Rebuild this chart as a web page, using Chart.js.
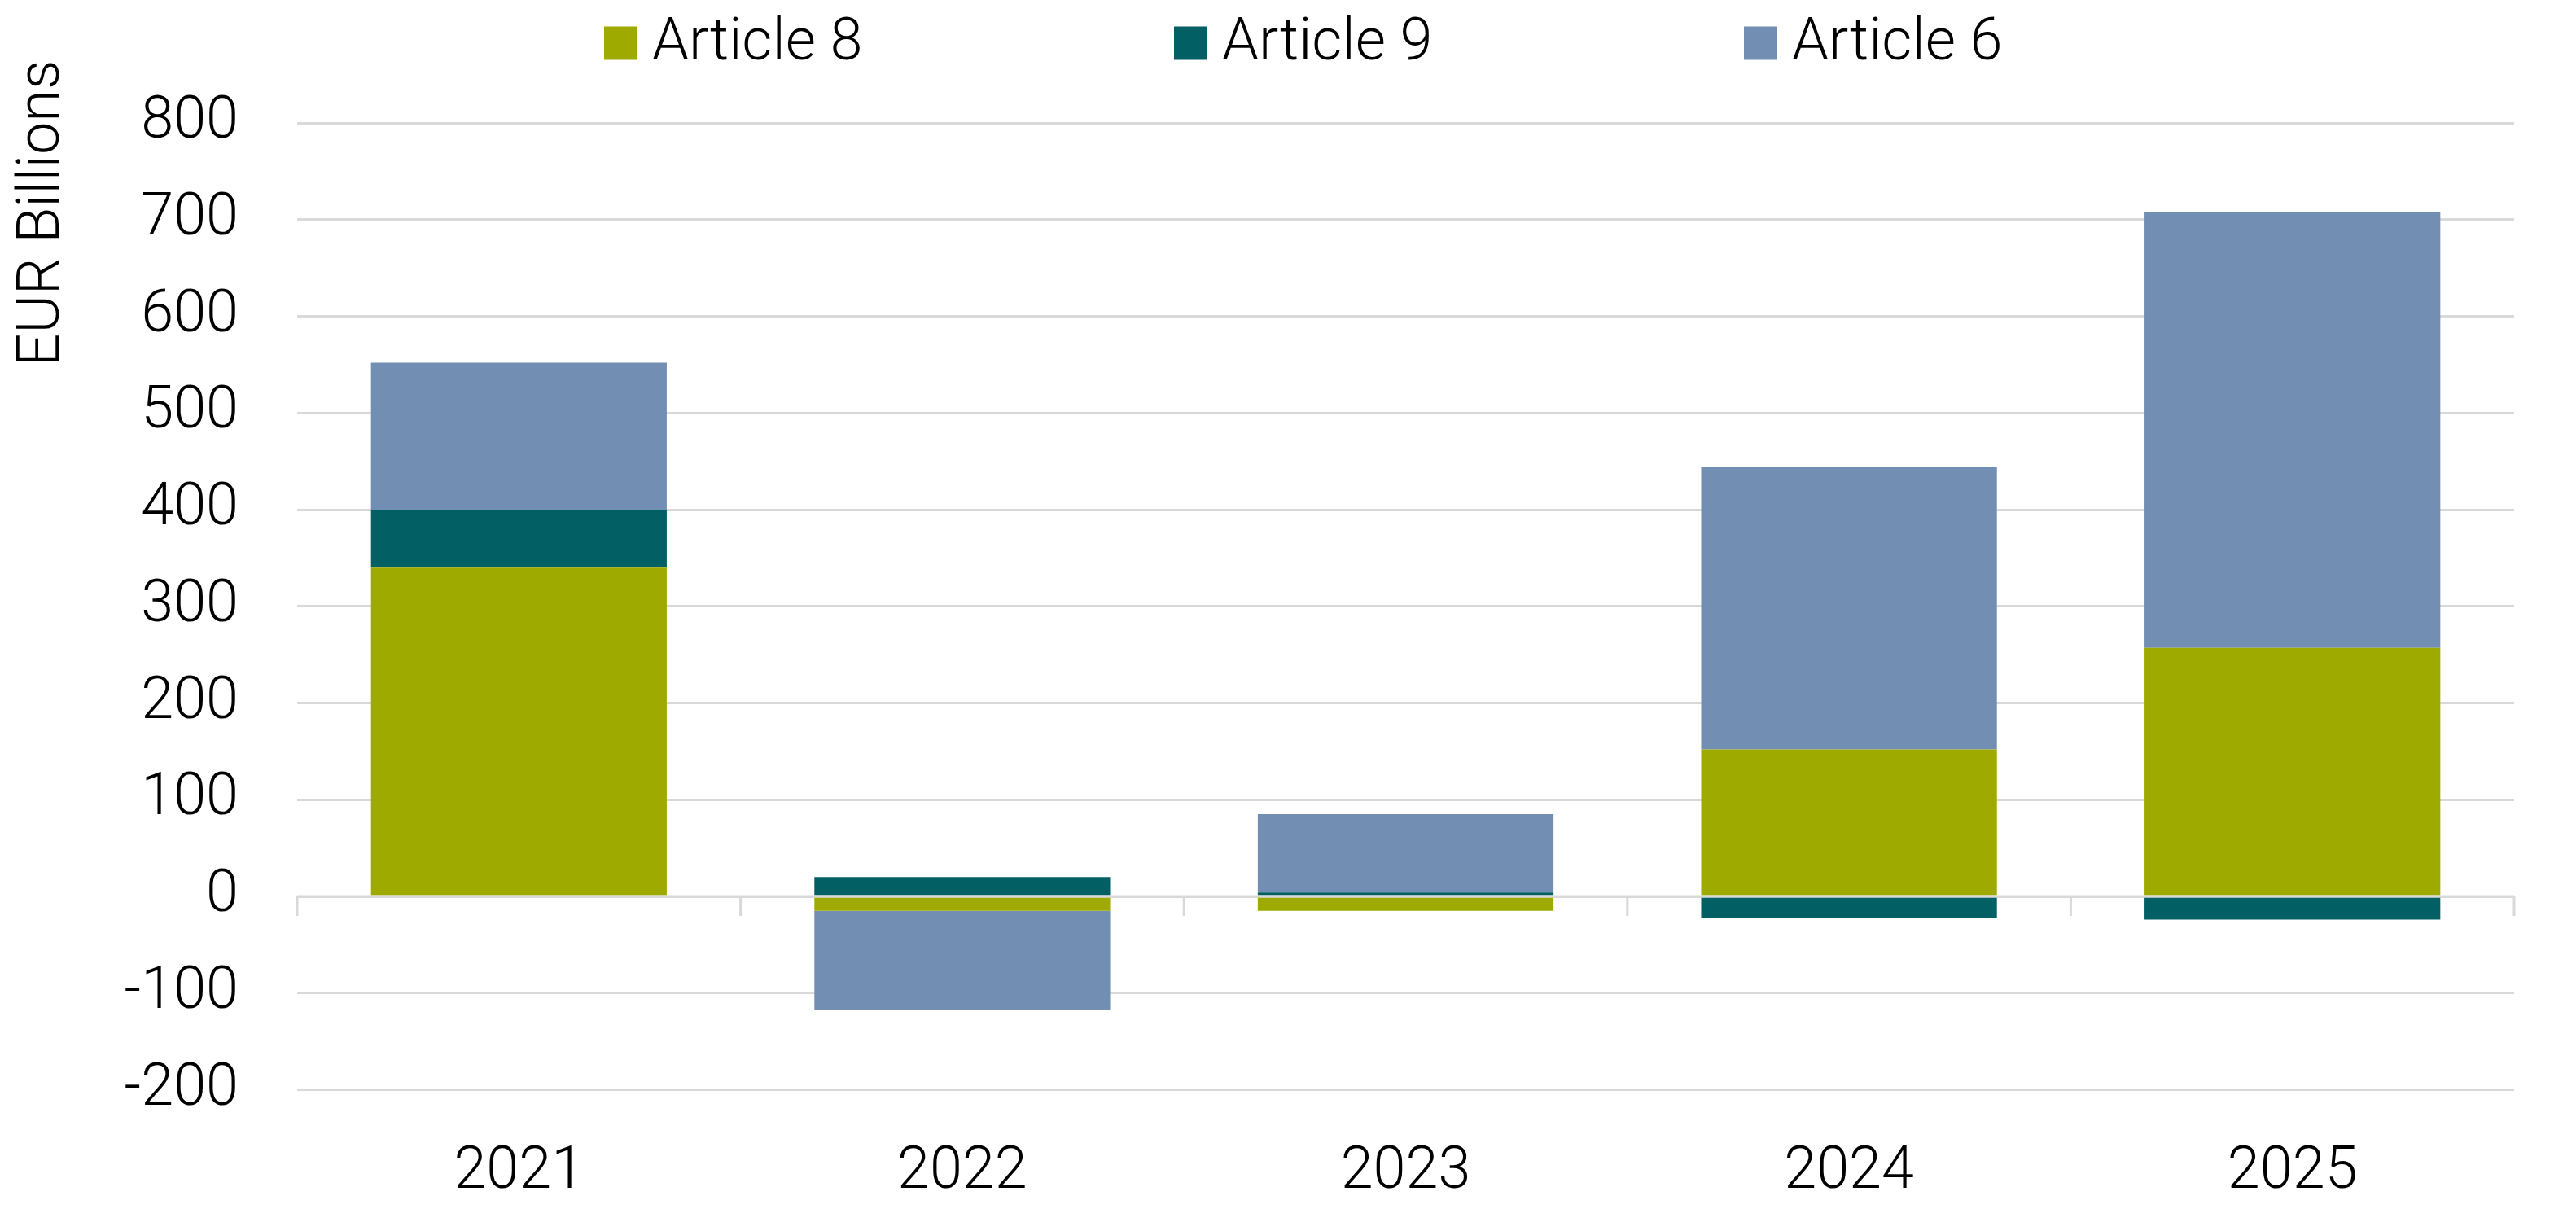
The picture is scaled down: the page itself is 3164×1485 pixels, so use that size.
<!DOCTYPE html>
<html>
<head>
<meta charset="utf-8">
<title>Flows by SFDR article</title>
<script src="https://cdn.jsdelivr.net/npm/chart.js@4/dist/chart.umd.min.js"></script>
<style>
  html, body { margin: 0; padding: 0; background: #fff; }
  #wrap { width: 3164px; height: 1485px; position: relative; }
</style>
</head>
<body>
<div id="wrap"><canvas id="graficoBarras"></canvas></div>
<script>
// data (EUR billions)
const years = ["2021", "2022", "2023", "2024", "2025"];
const article8 = [340, -15, -15, 152, 257];
const article9 = [60, 20, 4, -22, -24];
const article6 = [152, -102, 81, 292, 451];
const seriesNames = ["Article 8", "Article 9", "Article 6"];
const seriesColors = ["#9EAA00", "#025F64", "#728EB3"];
const yTicks = [-200, -100, 0, 100, 200, 300, 400, 500, 600, 700, 800];

const FONT = "Roboto, 'DejaVu Sans Condensed', sans-serif";
const GRID = "#D9D9D9";

// legend row drawn by hand so the wide spacing between items can be matched
const legendRow = {
  id: "legendRow",
  afterDraw: (chart) => {
    const ctx = chart.ctx;
    const box = 41, gap = 18, pitch = 700;
    ctx.save();
    ctx.font = "300 72px " + FONT;
    ctx.textBaseline = "middle";
    ctx.textAlign = "left";
    let x = chart.width / 2 - 840;
    const yMid = 53;
    chart.data.datasets.forEach((ds) => {
      ctx.fillStyle = ds.backgroundColor;
      ctx.fillRect(x, yMid - box / 2, box, box);
      ctx.fillStyle = "#000";
      ctx.fillText(ds.label, x + box + gap, yMid + 2);
      x += pitch;
    });
    ctx.restore();
  },
};

// y title at the top left, zero line over the bars and short category ticks under it
const axisExtras = {
  id: "axisExtras",
  afterDatasetsDraw: (chart) => {
    const ctx = chart.ctx;
    const xs = chart.scales.x;
    const ys = chart.scales.y;
    const y0 = ys.getPixelForValue(0);
    ctx.save();
    ctx.strokeStyle = GRID;
    ctx.lineWidth = 3;
    ctx.beginPath();
    ctx.moveTo(xs.left, y0);
    ctx.lineTo(xs.right, y0);
    const step = (xs.right - xs.left) / years.length;
    for (let i = 0; i <= years.length; i++) {
      const px = xs.left + i * step;
      ctx.moveTo(px, y0);
      ctx.lineTo(px, y0 + 24);
    }
    ctx.stroke();

    ctx.translate(54, 262);
    ctx.rotate(-Math.PI / 2);
    ctx.font = "300 72px " + FONT;
    ctx.fillStyle = "#000";
    ctx.textAlign = "center";
    ctx.textBaseline = "middle";
    ctx.fillText("EUR Billions", 0, 0);
    ctx.restore();
  },
};

const ctx = document.getElementById("graficoBarras").getContext("2d");
const myChart = new Chart(ctx, {
  type: "bar",
  data: {
    labels: years,
    datasets: [
      { label: seriesNames[0], data: article8, backgroundColor: seriesColors[0] },
      { label: seriesNames[1], data: article9, backgroundColor: seriesColors[1] },
      { label: seriesNames[2], data: article6, backgroundColor: seriesColors[2] },
    ],
  },
  options: {
    responsive: true,
    maintainAspectRatio: false,
    animation: false,
    categoryPercentage: 1,
    barPercentage: 0.667,
    layout: { padding: { left: 0, right: 76, top: 151, bottom: 0 } },
    plugins: {
      legend: { display: false },
      tooltip: { enabled: false },
    },
    scales: {
      x: {
        stacked: true,
        grid: { display: false, drawTicks: false },
        border: { display: false },
        ticks: { color: "#000", font: { family: FONT, size: 72, weight: 300, lineHeight: 1 }, padding: 66 },
        afterFit: (scale) => {
          scale.height = 146.5;
        },
      },
      y: {
        stacked: true,
        min: -200,
        max: 800,
        afterBuildTicks: (scale) => {
          scale.ticks = yTicks.map((v) => ({ value: v }));
        },
        grid: { color: GRID, lineWidth: 3, drawTicks: false },
        border: { display: false },
        ticks: { color: "#000", font: { family: FONT, size: 72, weight: 300 }, padding: 72 },
        afterFit: (scale) => {
          scale.width = 365;
        },
      },
    },
  },
  plugins: [legendRow, axisExtras],
});
</script>
</body>
</html>
